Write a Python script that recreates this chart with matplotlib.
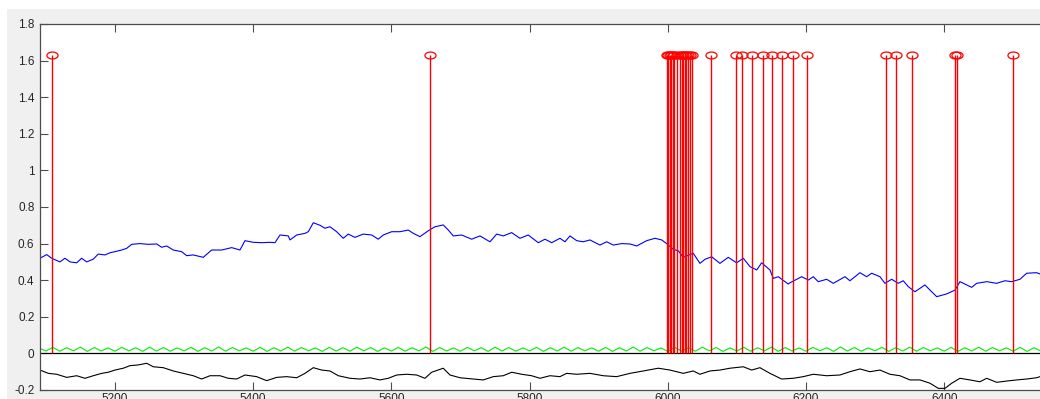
import numpy as np
import matplotlib
matplotlib.use("Agg")
import matplotlib.pyplot as plt
from matplotlib.patches import Rectangle
from matplotlib.path import Path
from matplotlib.ticker import FuncFormatter, MultipleLocator

plt.rcParams.update(
    {
        "font.family": ["Liberation Sans", "DejaVu Sans"],
        "xtick.direction": "in",
        "ytick.direction": "in",
    }
)

# spike events (stem plot)
spike_t = [
    5108.8, 5655.9,
    5998.9, 6001.0, 6003.2, 6005.4, 6007.5, 6009.7, 6013.3, 6017.7,
    6020.6, 6022.7, 6024.9, 6027.1, 6029.3, 6032.9, 6035.5,
    6062.1, 6098.3, 6107.0, 6121.4, 6138.2, 6150.4, 6164.8, 6181.6,
    6201.0, 6315.4, 6329.8, 6353.9, 6415.6, 6418.1, 6500.0,
]
spike_h = [1.63] * len(spike_t)

# blue trace
blue_t = [
    5091.5, 5101.2, 5108.4, 5120.4, 5127.6, 5134.9, 5144.6, 5151.8, 5159.0, 5168.6,
    5175.8, 5185.5, 5192.8, 5200.0, 5209.7, 5216.9, 5224.2, 5236.2, 5248.2, 5260.3,
    5267.6, 5274.8, 5284.4, 5296.5, 5303.8, 5313.3, 5327.8, 5339.9, 5354.4, 5368.9,
    5380.9, 5388.1, 5400.1, 5412.3, 5424.3, 5431.6, 5438.8, 5450.8, 5453.3, 5463.0,
    5475.0, 5479.8, 5487.0, 5496.7, 5503.9, 5511.1, 5520.8, 5530.4, 5537.6, 5547.3,
    5559.3, 5571.5, 5581.0, 5588.3, 5600.4, 5612.5, 5624.5, 5631.7, 5641.4, 5653.4,
    5663.1, 5675.1, 5682.4, 5689.6, 5701.7, 5716.2, 5728.2, 5742.7, 5752.4, 5762.0,
    5774.1, 5786.1, 5798.1, 5812.6, 5822.3, 5832.0, 5844.0, 5851.2, 5858.5, 5868.2,
    5877.7, 5887.4, 5901.9, 5911.6, 5921.1, 5933.3, 5945.3, 5955.0, 5969.5, 5981.5,
    5991.2, 5998.4, 6007.9, 6015.2, 6022.4, 6036.9, 6046.6, 6053.8, 6063.5, 6075.5,
    6087.6, 6099.7, 6109.3, 6119.0, 6128.7, 6135.9, 6147.9, 6152.7, 6160.0, 6174.4,
    6176.9, 6193.8, 6203.4, 6210.6, 6217.8, 6230.0, 6239.5, 6256.5, 6263.6, 6278.1,
    6287.8, 6295.1, 6307.1, 6314.3, 6324.0, 6333.6, 6340.8, 6348.0, 6357.7, 6372.2,
    6379.5, 6389.2, 6403.6, 6415.6, 6422.9, 6439.8, 6447.0, 6461.5, 6476.0, 6488.0,
    6497.7, 6509.7, 6519.4, 6533.9, 6538.7,
]
blue_v = [
    0.520, 0.540, 0.520, 0.500, 0.520, 0.500, 0.495, 0.520, 0.500, 0.515,
    0.543, 0.538, 0.550, 0.556, 0.565, 0.574, 0.596, 0.600, 0.596, 0.598,
    0.580, 0.587, 0.565, 0.556, 0.534, 0.538, 0.525, 0.565, 0.565, 0.578,
    0.565, 0.616, 0.607, 0.605, 0.607, 0.605, 0.647, 0.642, 0.620, 0.647,
    0.656, 0.665, 0.714, 0.700, 0.684, 0.692, 0.665, 0.629, 0.652, 0.634,
    0.652, 0.647, 0.624, 0.647, 0.665, 0.665, 0.674, 0.656, 0.638, 0.670,
    0.692, 0.702, 0.674, 0.642, 0.647, 0.624, 0.642, 0.610, 0.652, 0.642,
    0.660, 0.629, 0.647, 0.605, 0.624, 0.605, 0.629, 0.610, 0.642, 0.616,
    0.610, 0.620, 0.592, 0.610, 0.592, 0.600, 0.598, 0.587, 0.616, 0.629,
    0.620, 0.600, 0.569, 0.561, 0.525, 0.547, 0.492, 0.514, 0.528, 0.492,
    0.525, 0.495, 0.520, 0.474, 0.456, 0.495, 0.456, 0.410, 0.419, 0.379,
    0.386, 0.419, 0.401, 0.419, 0.392, 0.405, 0.383, 0.419, 0.397, 0.441,
    0.419, 0.438, 0.419, 0.383, 0.405, 0.383, 0.397, 0.365, 0.337, 0.374,
    0.346, 0.310, 0.325, 0.346, 0.392, 0.361, 0.383, 0.392, 0.383, 0.397,
    0.392, 0.405, 0.438, 0.441, 0.434,
]

# green trace, sampled every 10 units
green_t = np.arange(5090, 6541, 10)
green_v = [
    0.030, 0.013, 0.033, 0.012, 0.031, 0.014, 0.034, 0.011, 0.032, 0.013,
    0.030, 0.012, 0.033, 0.014, 0.031, 0.011, 0.034, 0.013, 0.032, 0.012,
    0.030, 0.014, 0.033, 0.011, 0.031, 0.013, 0.035, 0.012, 0.032, 0.014,
    0.030, 0.012, 0.033, 0.011, 0.031, 0.013, 0.034, 0.012, 0.032, 0.014,
    0.030, 0.011, 0.033, 0.013, 0.031, 0.012, 0.034, 0.014, 0.032, 0.011,
    0.030, 0.013, 0.033, 0.012, 0.031, 0.014, 0.035, 0.011, 0.032, 0.013,
    0.030, 0.012, 0.033, 0.014, 0.031, 0.011, 0.034, 0.013, 0.032, 0.012,
    0.030, 0.014, 0.033, 0.011, 0.031, 0.013, 0.034, 0.012, 0.032, 0.014,
    0.030, 0.012, 0.033, 0.011, 0.031, 0.013, 0.035, 0.012, 0.032, 0.014,
    0.030, 0.011, 0.033, 0.013, 0.031, 0.012, 0.034, 0.014, 0.032, 0.011,
    0.030, 0.013, 0.033, 0.012, 0.031, 0.014, 0.034, 0.011, 0.032, 0.013,
    0.030, 0.012, 0.033, 0.014, 0.031, 0.011, 0.035, 0.013, 0.032, 0.012,
    0.030, 0.014, 0.033, 0.011, 0.031, 0.013, 0.034, 0.012, 0.032, 0.014,
    0.030, 0.012, 0.033, 0.011, 0.031, 0.013, 0.034, 0.012, 0.032, 0.014,
    0.030, 0.012, 0.033, 0.011, 0.031, 0.013,
]

# black trace
black_t = [
    5091.5, 5103.5, 5115.6, 5130.1, 5144.6, 5156.6, 5168.6, 5180.8, 5190.3, 5200.0,
    5212.0, 5221.7, 5233.7, 5245.9, 5255.4, 5269.9, 5284.4, 5298.8, 5313.3, 5325.5,
    5337.5, 5352.0, 5364.0, 5376.1, 5388.1, 5405.1, 5419.5, 5434.0, 5448.5, 5463.0,
    5475.0, 5487.0, 5499.1, 5511.1, 5523.2, 5540.1, 5554.6, 5569.0, 5583.5, 5595.5,
    5607.7, 5622.1, 5636.6, 5648.6, 5658.3, 5675.1, 5684.8, 5699.3, 5718.5, 5733.0,
    5747.5, 5761.9, 5774.1, 5788.6, 5803.0, 5815.1, 5829.5, 5844.0, 5853.7, 5868.2,
    5887.4, 5906.7, 5926.1, 5945.3, 5964.6, 5986.3, 6003.2, 6022.4, 6036.9, 6046.6,
    6061.1, 6075.5, 6090.0, 6109.3, 6121.4, 6133.4, 6147.9, 6164.8, 6181.6, 6196.1,
    6210.6, 6230.0, 6249.2, 6263.6, 6278.1, 6292.6, 6307.1, 6321.5, 6336.0, 6350.5,
    6365.0, 6379.5, 6391.5, 6401.2, 6410.9, 6422.9, 6437.4, 6451.8, 6461.5, 6476.0,
    6490.5, 6504.9, 6519.4, 6533.9, 6538.7,
]
black_v = [
    -0.091, -0.109, -0.114, -0.131, -0.122, -0.136, -0.122, -0.109, -0.103, -0.091,
    -0.081, -0.067, -0.063, -0.054, -0.073, -0.078, -0.096, -0.109, -0.122, -0.140,
    -0.122, -0.122, -0.136, -0.140, -0.118, -0.127, -0.149, -0.131, -0.127, -0.133,
    -0.109, -0.078, -0.091, -0.096, -0.122, -0.136, -0.140, -0.133, -0.145, -0.136,
    -0.118, -0.114, -0.118, -0.136, -0.103, -0.081, -0.118, -0.133, -0.140, -0.145,
    -0.127, -0.122, -0.103, -0.114, -0.122, -0.136, -0.122, -0.127, -0.109, -0.114,
    -0.109, -0.122, -0.127, -0.109, -0.096, -0.081, -0.091, -0.109, -0.096, -0.114,
    -0.096, -0.091, -0.081, -0.073, -0.091, -0.078, -0.109, -0.140, -0.136, -0.127,
    -0.114, -0.122, -0.118, -0.100, -0.085, -0.100, -0.091, -0.114, -0.122, -0.145,
    -0.145, -0.163, -0.191, -0.191, -0.163, -0.136, -0.145, -0.155, -0.136, -0.158,
    -0.151, -0.145, -0.140, -0.133, -0.127,
]

# flattened open-circle marker for the spike heads
theta = np.linspace(0, 2 * np.pi, 41)
head = Path(np.column_stack([np.cos(theta), 0.62 * np.sin(theta)]))

W, H = 1040, 399
fig = plt.figure(figsize=(W / 100, H / 100), dpi=100, facecolor="white")
fig.patches.append(
    Rectangle((7 / W, 0), 1, (H - 9) / H, transform=fig.transFigure,
              facecolor="#f0f0f0", edgecolor="none", zorder=-10)
)
ax = fig.add_axes([40 / W, 9 / H, 1000 / W, 366 / H])
ax.set_facecolor("white")

ax.plot(blue_t, blue_v, color="#0000ff", lw=0.8)
ax.plot(green_t, green_v, color="#00ee00", lw=0.8)
ax.plot(black_t, black_v, color="black", lw=0.8)
ax.axhline(0, color="black", lw=0.9)
ax.vlines(spike_t, 0, spike_h, color="#ff0000", lw=1.0)
ax.plot(spike_t, spike_h, marker=head, ms=8, mfc="none", mec="#ff0000",
        mew=0.9, ls="none")

ax.set_xlim(5091.5, 6538.7)
ax.set_ylim(-0.2, 1.8)
ax.xaxis.set_major_locator(MultipleLocator(200))
ax.yaxis.set_major_locator(MultipleLocator(0.2))
ax.yaxis.set_major_formatter(
    FuncFormatter(lambda v, p: "0" if abs(v) < 1e-9 else f"{v:.1f}".rstrip("0").rstrip("."))
)

for s in ("left", "bottom", "top"):
    ax.spines[s].set_color("#4d4d4d")
    ax.spines[s].set_linewidth(0.9)
ax.spines["right"].set_visible(False)
ax.tick_params(axis="both", colors="#4d4d4d", labelcolor="#262626",
               labelsize=8.5, length=6, width=0.8, top=True, right=False)
ax.tick_params(axis="x", pad=2)
ax.tick_params(axis="y", pad=4)

fig.savefig("out.png", dpi=100, facecolor=fig.get_facecolor())
